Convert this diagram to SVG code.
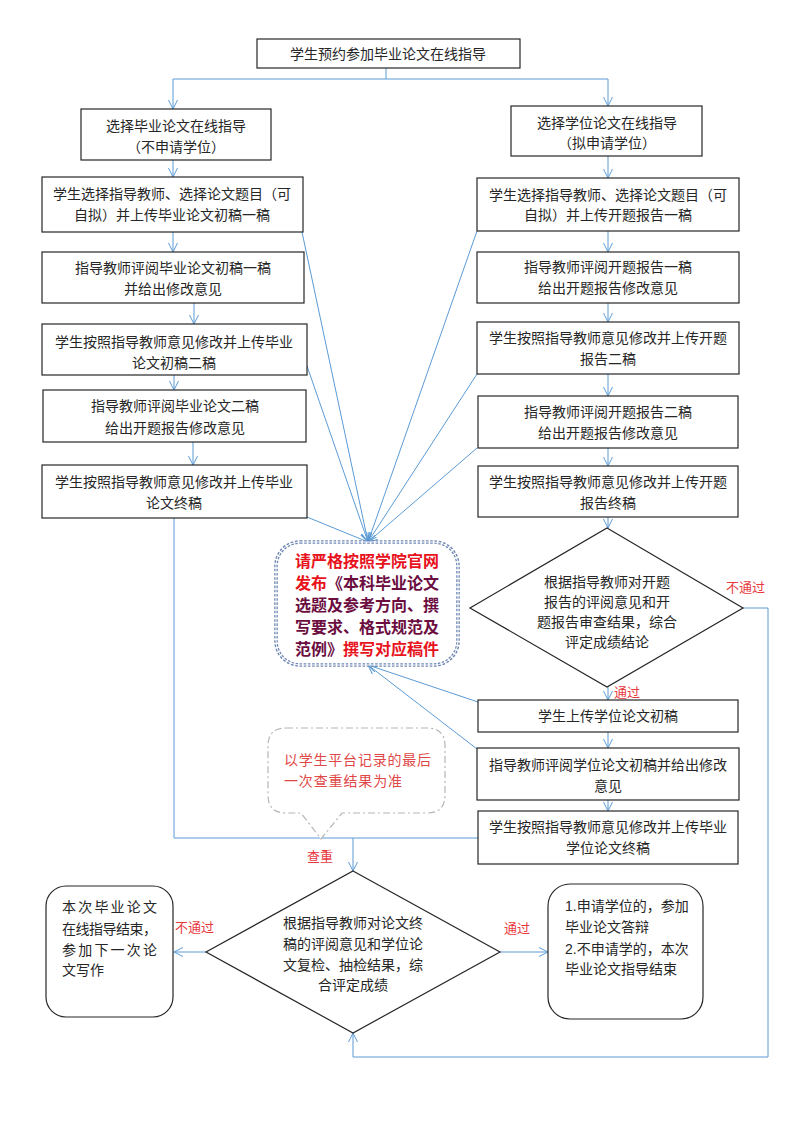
<svg xmlns="http://www.w3.org/2000/svg" width="794" height="1123" viewBox="0 0 794 1123">
<defs>
<marker id="arr" markerUnits="userSpaceOnUse" viewBox="0 0 10 10" refX="9" refY="5" markerWidth="10" markerHeight="10" orient="auto">
<path d="M0,0.5 L9,5 L0,9.5" fill="none" stroke="#5b9bd5" stroke-width="1"/>
</marker>
<style>
.box{fill:#fff;stroke:#262626;stroke-width:1.2}
.t{font-family:"Liberation Sans","Noto Sans CJK SC",sans-serif;font-size:14px;fill:#262626;text-anchor:middle}
.tl{font-family:"Liberation Sans","Noto Sans CJK SC",sans-serif;font-size:14px;fill:#262626}
.lab{font-family:"Liberation Sans","Noto Sans CJK SC",sans-serif;font-size:13px;fill:#e8383d}
.c{fill:none;stroke:#5b9bd5;stroke-width:1}
.ca{fill:none;stroke:#5b9bd5;stroke-width:1;marker-end:url(#arr)}
.big{font-family:"Liberation Sans","Noto Sans CJK SC",sans-serif;font-size:16px;font-weight:bold;text-anchor:middle}
.red{fill:#e8121c}
.pur{fill:#6b0d3f}
</style>
</defs>
<rect width="794" height="1123" fill="#fff"/>

<g id="connectors">
<path class="c" d="M386,68 V79 M173,79 H608"/>
<path class="ca" d="M173,79 V109"/>
<path class="ca" d="M608,79 V106"/>
<path class="ca" d="M173,160 V177"/>
<path class="ca" d="M173,232 V252"/>
<path class="ca" d="M194,303 V324"/>
<path class="ca" d="M174,375 V390"/>
<path class="ca" d="M193,442 V465"/>
<path class="ca" d="M608,156 V178"/>
<path class="ca" d="M608,231 V252"/>
<path class="ca" d="M608,303 V322"/>
<path class="ca" d="M608,374 V396"/>
<path class="ca" d="M608,448 V466"/>
<path class="ca" d="M608,517 V528"/>
<path class="ca" d="M608,687 V700"/>
<path class="ca" d="M608,732 V748"/>
<path class="ca" d="M608,800 V811"/>
<path class="ca" d="M302,232 L368,542"/>
<path class="ca" d="M307,366 L368,542"/>
<path class="ca" d="M307,517 L368,542"/>
<path class="ca" d="M477,231 L368,542"/>
<path class="ca" d="M477,374 L368,542"/>
<path class="ca" d="M477,448 L368,542"/>
<path class="ca" d="M478,702 L368,665"/>
<path class="ca" d="M477,749 L368,665"/>
<path class="c" d="M174,517 V838 H478"/>
<path class="ca" d="M353,838 V871"/>
<path class="ca" d="M743,608 H768 V1057 H353 V1033"/>
<path class="ca" d="M206,952 H174"/>
<path class="ca" d="M500,952 H548"/>
</g>

<g id="n-start"><rect class="box" x="257" y="39" width="263" height="29"/><text class="t" x="388" y="59">学生预约参加毕业论文在线指导</text></g>

<g id="n-l1"><rect class="box" x="81" y="109" width="190" height="51"/><text class="t" x="176" y="131">选择毕业论文在线指导</text><text class="t" x="176" y="152">（不申请学位）</text></g>
<g id="n-l2"><rect class="box" x="42" y="177" width="261" height="55"/><text class="t" x="172" y="199">学生选择指导教师、选择论文题目（可</text><text class="t" x="172" y="220">自拟）并上传毕业论文初稿一稿</text></g>
<g id="n-l3"><rect class="box" x="42" y="252" width="262" height="51"/><text class="t" x="173" y="273">指导教师评阅毕业论文初稿一稿</text><text class="t" x="173" y="294">并给出修改意见</text></g>
<g id="n-l4"><rect class="box" x="42" y="324" width="265" height="51"/><text class="t" x="174" y="347">学生按照指导教师意见修改并上传毕业</text><text class="t" x="174" y="368">论文初稿二稿</text></g>
<g id="n-l5"><rect class="box" x="43" y="390" width="263" height="52"/><text class="t" x="175" y="411">指导教师评阅毕业论文二稿</text><text class="t" x="175" y="433">给出开题报告修改意见</text></g>
<g id="n-l6"><rect class="box" x="42" y="465" width="265" height="53"/><text class="t" x="174" y="487">学生按照指导教师意见修改并上传毕业</text><text class="t" x="174" y="508">论文终稿</text></g>

<g id="n-r1"><rect class="box" x="511" y="106" width="191" height="50"/><text class="t" x="607" y="128">选择学位论文在线指导</text><text class="t" x="607" y="148">（拟申请学位）</text></g>
<g id="n-r2"><rect class="box" x="477" y="178" width="262" height="53"/><text class="t" x="608" y="200">学生选择指导教师、选择论文题目（可</text><text class="t" x="608" y="220">自拟）并上传开题报告一稿</text></g>
<g id="n-r3"><rect class="box" x="477" y="252" width="262" height="51"/><text class="t" x="608" y="272">指导教师评阅开题报告一稿</text><text class="t" x="608" y="293">给出开题报告修改意见</text></g>
<g id="n-r4"><rect class="box" x="477" y="322" width="262" height="52"/><text class="t" x="608" y="343">学生按照指导教师意见修改并上传开题</text><text class="t" x="608" y="364">报告二稿</text></g>
<g id="n-r5"><rect class="box" x="478" y="396" width="260" height="52"/><text class="t" x="608" y="417">指导教师评阅开题报告二稿</text><text class="t" x="608" y="438">给出开题报告修改意见</text></g>
<g id="n-r6"><rect class="box" x="478" y="466" width="260" height="51"/><text class="t" x="608" y="487">学生按照指导教师意见修改并上传开题</text><text class="t" x="608" y="508">报告终稿</text></g>

<g id="n-d1"><path class="box" d="M607,528 L743,608 L607,687 L470,608 Z"/>
<text class="t" x="607" y="587">根据指导教师对开题</text>
<text class="t" x="607" y="607">报告的评阅意见和开</text>
<text class="t" x="607" y="627">题报告审查结果，综合</text>
<text class="t" x="607" y="647">评定成绩结论</text></g>

<g id="n-r7"><rect class="box" x="478" y="700" width="260" height="32"/><text class="t" x="608" y="721">学生上传学位论文初稿</text></g>
<g id="n-r8"><rect class="box" x="477" y="748" width="262" height="52"/><text class="t" x="608" y="770">指导教师评阅学位论文初稿并给出修改</text><text class="t" x="608" y="791">意见</text></g>
<g id="n-r9"><rect class="box" x="478" y="811" width="260" height="53"/><text class="t" x="608" y="832">学生按照指导教师意见修改并上传毕业</text><text class="t" x="608" y="853">学位论文终稿</text></g>

<g id="n-note">
<rect x="276" y="542" width="182" height="123" rx="24" fill="#fff" stroke="#6f88b5" stroke-width="3.6" stroke-dasharray="2.6 1.6"/>
<rect x="276" y="542" width="182" height="123" rx="24" fill="none" stroke="#fff" stroke-width="1"/>
<text class="big red" x="367" y="567">请严格按照学院官网</text>
<text class="big" x="367" y="589"><tspan class="red">发布</tspan><tspan class="pur">《本科毕业论文</tspan></text>
<text class="big pur" x="367" y="611">选题及参考方向、撰</text>
<text class="big pur" x="367" y="633">写要求、格式规范及</text>
<text class="big" x="367" y="655"><tspan class="pur">范例》</tspan><tspan class="red">撰写对应稿件</tspan></text>
</g>

<g id="n-note2">
<path d="M286,728 H427 Q445,728 445,746 V795 Q445,813 427,813 H342 L321,839 L301,813 H286 Q268,813 268,795 V746 Q268,728 286,728 Z" fill="#fff" stroke="#b5b5b5" stroke-width="1.2" stroke-dasharray="7 3 2 3"/>
<text class="lab" x="284" y="765" font-size="14" textLength="147" lengthAdjust="spacing" style="font-size:14px;fill:#e04848">以学生平台记录的最后</text>
<text class="lab" x="284" y="786" style="font-size:14px;fill:#e04848" textLength="118" lengthAdjust="spacing">一次查重结果为准</text>
</g>

<g id="n-d2"><path class="box" d="M353,871 L500,952 L353,1033 L206,952 Z"/>
<text class="t" x="353" y="928">根据指导教师对论文终</text>
<text class="t" x="353" y="949">稿的评阅意见和学位论</text>
<text class="t" x="353" y="970">文复检、抽检结果，综</text>
<text class="t" x="353" y="990">合评定成绩</text></g>

<g id="n-end-fail"><rect class="box" x="46" y="886" width="127" height="131" rx="20"/>
<text class="tl" x="62" y="912" textLength="95" lengthAdjust="spacing">本次毕业论文</text>
<text class="tl" x="62" y="934" textLength="95" lengthAdjust="spacing">在线指导结束，</text>
<text class="tl" x="62" y="955" textLength="95" lengthAdjust="spacing">参加下一次论</text>
<text class="tl" x="62" y="975">文写作</text></g>

<g id="n-end-pass"><rect class="box" x="548" y="884" width="155" height="135" rx="22"/>
<text class="tl" x="565" y="911">1.申请学位的，参加</text>
<text class="tl" x="565" y="932">毕业论文答辩</text>
<text class="tl" x="565" y="954">2.不申请学的，本次</text>
<text class="tl" x="565" y="974">毕业论文指导结束</text></g>

<g id="labels">
<text class="lab" x="726" y="592">不通过</text>
<text class="lab" x="614" y="697">通过</text>
<text class="lab" x="307" y="861">查重</text>
<text class="lab" x="175" y="932">不通过</text>
<text class="lab" x="504" y="933">通过</text>
</g>
</svg>
